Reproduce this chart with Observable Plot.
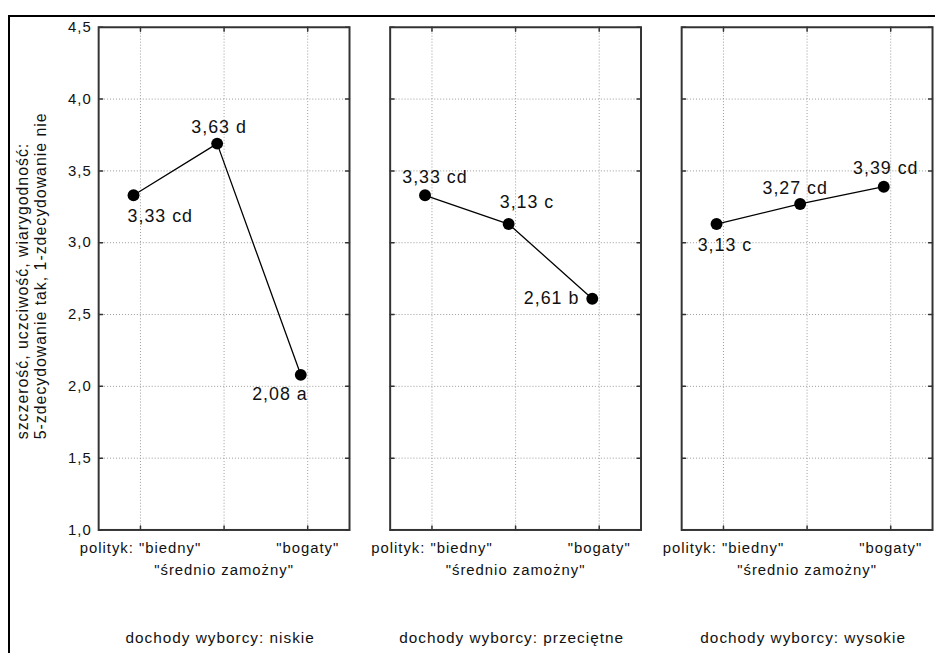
<!DOCTYPE html>
<html>
<head>
<meta charset="utf-8">
<script src="https://cdn.jsdelivr.net/npm/d3@7"></script>
<script src="https://cdn.jsdelivr.net/npm/@observablehq/plot@0.6"></script>
<style>
  html, body { margin: 0; padding: 0; background: #fff; overflow: hidden; }
  #wrap { position: relative; width: 935px; height: 653px; overflow: hidden; }
  #chart { position: absolute; left: 0; top: 0; }
  #outer { position: absolute; left: 8px; top: 15px; width: 1200px; height: 1200px;
           border-left: 2px solid #000; border-top: 2px solid #000; }
</style>
</head>
<body>
<div id="wrap"><div id="chart"></div><div id="outer"></div></div>
<script>
// ---- data ----
const groups = ["niskie", "przeciętne", "wysokie"];
const fxPrefix = "dochody wyborcy: ";
const cats = ["biedny", "średnio zamożny", "bogaty"];
const catLabels = ['polityk: "biedny"', '"średnio zamożny"', '"bogaty"'];
const valNiskie = [3.33, 3.69, 2.08];
const valPrzecietne = [3.33, 3.13, 2.61];
const valWysokie = [3.13, 3.27, 3.39];
const lblNiskie = ["3,33 cd", "3,63 d", "2,08 a"];
const lblPrzecietne = ["3,33 cd", "3,13 c", "2,61 b"];
const lblWysokie = ["3,13 c", "3,27 cd", "3,39 cd"];
const yTicks = [1.0, 1.5, 2.0, 2.5, 3.0, 3.5, 4.0, 4.5];
const yTickLabels = ["1,0", "1,5", "2,0", "2,5", "3,0", "3,5", "4,0", "4,5"];
const yTitle = "szczerość, uczciwość, wiarygodność:\n5-zdecydowanie tak, 1-zdecydowanie nie";

// ---- layout (label nudges in px, relative to each point) ----
const labelNudge = [[-6, 21], [-26, -16], [-49, 20], [-23, -18], [-9, -22], [-69, 0], [-19, 21], [-38, -16], [-31, -19]];
const ptShift = -7;

const vals = [valNiskie, valPrzecietne, valWysokie];
const lbls = [lblNiskie, lblPrzecietne, lblWysokie];
const rows = [];
groups.forEach((g, gi) => cats.forEach((c, ci) => {
  rows.push({grupa: g, kat: c, val: vals[gi][ci], label: lbls[gi][ci], k: gi * 3 + ci});
}));

const tickShape = {draw(context, l) { context.moveTo(0, 0); context.lineTo(0, -l); }};
const tickStyle = {stroke: "#333", strokeWidth: 1.5, length: 4, anchor: "start", shape: tickShape};

const labelMarks = rows.map(d => Plot.text([d], {
  fx: "grupa", x: "kat", y: "val", text: "label",
  textAnchor: "start", lineAnchor: "middle", fontSize: 18, fill: "#111",
  dx: ptShift + labelNudge[d.k][0], dy: labelNudge[d.k][1]
}));

const chart = Plot.plot({
  width: 943, height: 653,
  marginLeft: 99, marginRight: 3, marginTop: 27, marginBottom: 119,
  style: {fontFamily: "'Liberation Sans', Arial, sans-serif", letterSpacing: "1px", color: "#111", background: "transparent"},
  fx: {domain: groups, range: [99, 940], paddingInner: 0.13946, paddingOuter: 0, round: false, axis: null, label: null},
  x: {type: "point", domain: cats, padding: 0.5, round: false, axis: null, label: null},
  y: {domain: [1, 4.5], axis: null, label: null},
  marks: [
    Plot.gridY(yTicks, {stroke: "#9a9a9a", strokeOpacity: 1, strokeDasharray: "1,2"}),
    Plot.gridX(cats, {stroke: "#9a9a9a", strokeOpacity: 1, strokeDasharray: "1,2"}),
    Plot.vector(yTicks, {y: d => d, frameAnchor: "left", rotate: 90, ...tickStyle}),
    Plot.vector(yTicks, {y: d => d, frameAnchor: "right", rotate: -90, ...tickStyle}),
    Plot.vector(cats, {x: d => d, frameAnchor: "bottom", rotate: 0, ...tickStyle}),
    Plot.vector(cats, {x: d => d, frameAnchor: "top", rotate: 180, ...tickStyle}),
    Plot.frame({stroke: "#333", strokeWidth: 2}),
    Plot.line(rows, {fx: "grupa", x: "kat", y: "val", stroke: "#000", strokeWidth: 1.3, dx: ptShift}),
    Plot.dot(rows, {fx: "grupa", x: "kat", y: "val", r: 6, fill: "#000", stroke: "none", dx: ptShift}),
    ...labelMarks,
    Plot.axisY({ticks: yTicks, tickFormat: d => yTickLabels[yTicks.indexOf(d)], tickSize: 0, tickPadding: 7, fontSize: 15, label: null}),
    Plot.axisX({ticks: [cats[0], cats[2]], tickFormat: d => catLabels[cats.indexOf(d)], tickSize: 0, tickPadding: 13, fontSize: 15, label: null}),
    Plot.axisX({ticks: [cats[1]], tickFormat: d => catLabels[cats.indexOf(d)], tickSize: 0, tickPadding: 35, fontSize: 15, label: null}),
    Plot.axisFx({anchor: "bottom", tickFormat: d => fxPrefix + d, tickSize: 0, tickPadding: 103, fontSize: 15.5, dx: -4, label: null}),
    Plot.text([yTitle], {fx: () => groups[0], frameAnchor: "left", rotate: -90, dx: -68, dy: 162, text: d => d,
      fontSize: 16, lineHeight: 1.1, lineAnchor: "middle", textAnchor: "start", fill: "#111"})
  ]
});
document.getElementById("chart").appendChild(chart);
</script>
</body>
</html>
